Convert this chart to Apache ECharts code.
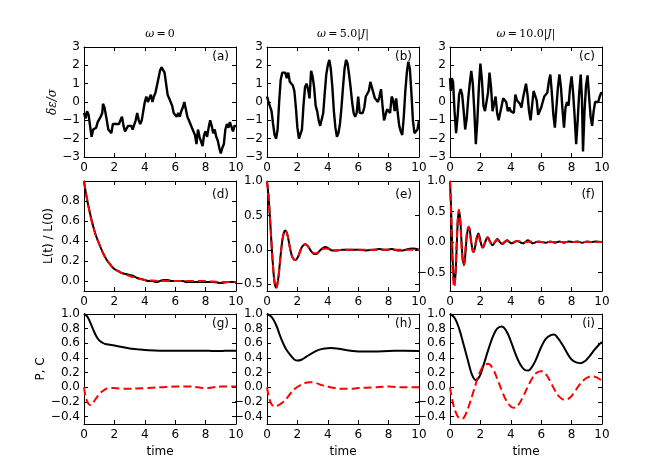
<!DOCTYPE html>
<html><head><meta charset="utf-8">
<script src="https://cdn.jsdelivr.net/npm/echarts@6/dist/echarts.min.js"></script>
<style>html,body{margin:0;padding:0;background:#fff}#c{width:668px;height:474px}</style>
</head><body><div id="c"></div>
<script>
// ---------- tick labels / texts ----------
const xTicks = [0, 2, 4, 6, 8, 10];
const yTicksTop = [-3, -2, -1, 0, 1, 2, 3];
const yTicksD = [0, 0.2, 0.4, 0.6, 0.8];
const yTicksEF = [-0.5, 0, 0.5, 1.0];
const yTicksBottom = [-0.4, -0.2, 0, 0.2, 0.4, 0.6, 0.8, 1.0];
const panelLabels = ['(a)', '(b)', '(c)', '(d)', '(e)', '(f)', '(g)', '(h)', '(i)'];
const colTitles = ['{i|ω}\u2009=\u20090', '{i|ω}\u2009=\u20095.0|{i|J}|', '{i|ω}\u2009=\u200910.0|{i|J}|'];
const rowNames = ['δε/σ', 'L(t) / L(0)', 'P, C'];
const xName = 'time';

// ---------- data: row 1 (noise) ----------
const noiseA = [[0,-0.6],[0.1,-0.9],[0.2,-0.5],[0.3,-0.7],[0.4,-1.3],[0.5,-1.9],[0.6,-1.5],[0.7,-1.5],[0.8,-1.4],[0.9,-1.1],
[1.0,-1.2],[1.1,-0.8],[1.2,-0.6],[1.25,-0.1],[1.35,-0.3],[1.5,-1.0],[1.6,-1.5],[1.7,-1.5],[1.8,-1.7],[1.9,-1.2],
[2.0,-1.3],[2.1,-1.2],[2.2,-1.1],[2.3,-1.2],[2.4,-1.0],[2.5,-0.8],[2.6,-1.3],[2.7,-1.6],[2.8,-1.5],[2.9,-1.3],
[3.0,-1.4],[3.1,-1.3],[3.2,-1.5],[3.3,-1.4],[3.4,-1.0],[3.5,-0.6],[3.6,-1.0],[3.7,-1.2],[3.8,-1.0],[3.9,-0.5],
[4.0,0.0],[4.1,0.3],[4.2,0.0],[4.3,0.2],[4.4,0.4],[4.5,0.0],[4.6,0.3],[4.7,0.5],[4.8,0.9],[4.9,1.3],
[5.0,1.7],[5.1,1.9],[5.2,2.0],[5.3,1.6],[5.4,1.0],[5.5,0.4],[5.6,0.2],[5.7,0.3],[5.8,-0.2],[5.9,-0.6],
[6.0,-0.7],[6.1,-0.8],[6.2,-0.6],[6.3,-0.8],[6.4,-0.5],[6.5,-0.3],[6.6,0.0],[6.7,-0.4],[6.8,-0.8],[6.9,-1.0],
[7.0,-1.1],[7.1,-1.4],[7.2,-1.3],[7.3,-1.8],[7.4,-2.3],[7.5,-1.5],[7.6,-1.9],[7.7,-2.0],[7.8,-2.4],[7.9,-1.8],
[8.0,-1.6],[8.1,-1.9],[8.2,-1.4],[8.3,-1.0],[8.4,-1.3],[8.5,-1.7],[8.6,-1.5],[8.7,-1.9],[8.8,-2.1],[8.9,-2.5],
[9.0,-2.8],[9.1,-2.5],[9.2,-2.3],[9.3,-1.5],[9.4,-1.2],[9.5,-1.4],[9.6,-1.1],[9.7,-1.2],[9.8,-1.6],[9.9,-1.3],[10,-1.3]];

const noiseB = [[0,0.3],[0.1,0.0],[0.2,0.0],[0.3,-0.5],[0.4,-1.2],[0.5,-1.8],[0.6,-2.0],[0.7,-1.5],[0.8,0.0],[0.9,1.2],
[1.0,1.6],[1.1,1.6],[1.2,1.6],[1.3,1.3],[1.4,1.6],[1.5,1.1],[1.6,1.0],[1.7,0.9],[1.8,0.6],[1.9,-0.3],
[2.0,-1.4],[2.1,-2.0],[2.2,-2.0],[2.3,-1.5],[2.4,-0.2],[2.5,0.8],[2.6,1.0],[2.7,0.7],[2.8,0.2],[2.9,1.7],
[3.0,1.4],[3.1,0.8],[3.2,-0.2],[3.3,-0.5],[3.4,-1.0],[3.5,-1.3],[3.6,-1.2],[3.7,-0.6],[3.8,0.5],[3.9,1.5],
[4.0,2.0],[4.1,2.3],[4.2,1.8],[4.3,0.8],[4.4,-0.5],[4.5,-1.4],[4.6,-1.9],[4.7,-1.7],[4.8,-1.2],[4.9,-0.3],
[5.0,0.8],[5.1,1.8],[5.2,2.3],[5.3,2.1],[5.4,1.5],[5.5,0.8],[5.6,0.0],[5.7,-0.6],[5.8,-0.8],[5.9,-0.6],
[6.0,0.3],[6.1,-0.6],[6.2,-0.7],[6.3,-0.6],[6.4,-0.3],[6.5,0.3],[6.6,0.4],[6.7,0.6],[6.8,1.1],[6.9,0.8],
[7.0,0.5],[7.1,0.2],[7.2,0.1],[7.3,0.0],[7.4,0.3],[7.5,0.7],[7.6,-0.2],[7.7,-1.0],[7.8,-0.7],[7.9,-0.4],
[8.0,-0.4],[8.1,-0.6],[8.2,0.3],[8.3,0.1],[8.4,-0.5],[8.5,0.2],[8.6,-0.6],[8.7,-1.3],[8.8,-1.6],[8.9,-1.8],
[9.0,-0.8],[9.1,0.6],[9.2,1.6],[9.3,2.2],[9.4,1.8],[9.5,0.5],[9.6,-1.0],[9.7,-1.7],[9.8,-1.8],[9.9,-1.5],[10,-1.0]];

const noiseC = [[0,1.3],[0.05,0.6],[0.12,1.3],[0.2,1.1],[0.3,-0.5],[0.4,-1.7],[0.5,-0.8],[0.6,0.4],[0.7,0.7],[0.8,0.4],
[0.9,-0.5],[1.0,-1.5],[1.1,-0.9],[1.2,0.2],[1.3,1.0],[1.4,1.7],[1.5,1.0],[1.6,-0.5],[1.7,-2.3],[1.8,-1.0],
[1.9,0.8],[2.0,2.1],[2.1,1.2],[2.2,-0.2],[2.3,-0.5],[2.4,-0.5],[2.5,0.5],[2.6,1.6],[2.7,0.8],[2.8,-0.5],
[2.9,-0.1],[3.0,0.3],[3.1,-0.6],[3.2,-1.0],[3.3,-1.0],[3.4,-0.2],[3.5,0.2],[3.6,0.2],[3.7,0.0],[3.8,-0.5],
[3.9,-0.3],[4.0,-0.5],[4.1,-0.4],[4.2,-0.6],[4.3,0.4],[4.4,0.1],[4.5,0.0],[4.6,-0.1],[4.7,-0.3],[4.8,0.2],
[4.9,0.6],[5.0,1.0],[5.1,0.4],[5.2,-0.5],[5.3,-1.0],[5.4,-0.2],[5.5,0.6],[5.6,0.6],[5.7,0.1],[5.8,-0.7],
[5.9,-0.8],[6.0,-0.3],[6.1,-0.2],[6.2,0.3],[6.3,0.2],[6.4,0.5],[6.5,1.1],[6.6,1.5],[6.7,0.5],[6.8,-0.7],
[6.9,-1.4],[7.0,-0.3],[7.1,0.8],[7.2,1.5],[7.3,0.8],[7.4,-0.4],[7.5,-1.4],[7.6,-0.3],[7.7,0.0],[7.8,-0.2],
[7.9,0.8],[8.0,1.4],[8.1,0.5],[8.2,-0.8],[8.3,-2.3],[8.4,-1.0],[8.5,0.5],[8.6,1.5],[8.68,0.2],[8.75,-2.7],
[8.85,-0.5],[8.95,0.9],[9.05,1.45],[9.15,0.3],[9.25,-0.8],[9.35,-1.3],[9.45,-0.5],[9.55,0.0],[9.65,-0.1],[9.75,0.0],
[9.85,0.3],[9.95,0.5],[10,0.5]];

// ---------- data: row 2 (L(t)/L(0)) ----------
const lBlackD = [[0,1.0],[0.1,0.9],[0.25,0.78],[0.5,0.61],[0.75,0.47],[1,0.37],[1.25,0.28],[1.5,0.21],[1.75,0.16],[2,0.12],
[2.25,0.1],[2.5,0.08],[2.75,0.07],[3,0.06],[3.25,0.05],[3.5,0.03],[3.75,0.02],[4,0.01],[4.25,0.0],[4.5,0.0],
[4.75,-0.01],[5,0.0],[5.25,0.01],[5.5,0.01],[5.75,0.0],[6,0.0],[6.5,0.0],[6.75,-0.01],[7,-0.01],[7.5,-0.01],
[8,-0.01],[8.5,-0.01],[9,-0.02],[9.5,-0.01],[10,-0.01]];
const lRedD = [[0,1.0],[0.25,0.78],[0.5,0.6],[0.75,0.47],[1,0.37],[1.25,0.28],[1.5,0.21],[1.75,0.16],[2,0.12],[2.5,0.08],
[3,0.05],[3.5,0.03],[4,0.01],[4.5,0.005],[5,0.0],[6,0.0],[7,0.0],[8,0.0],[9,-0.01],[10,-0.01]];
const lBlackE = [[0,1.0],[0.1,0.78],[0.2,0.45],[0.3,0.08],[0.4,-0.25],[0.5,-0.48],[0.6,-0.55],[0.7,-0.48],[0.8,-0.3],[0.9,-0.07],
[1.0,0.12],[1.1,0.24],[1.2,0.28],[1.3,0.25],[1.4,0.16],[1.5,0.04],[1.6,-0.06],[1.7,-0.12],[1.85,-0.15],[2.0,-0.12],
[2.15,-0.04],[2.3,0.04],[2.5,0.08],[2.7,0.05],[2.9,-0.02],[3.1,-0.06],[3.25,-0.06],[3.45,-0.02],[3.65,0.02],[3.85,0.04],
[4.05,0.02],[4.3,-0.01],[4.6,-0.01],[5,0.0],[5.5,0.0],[6,0.0],[6.5,-0.01],[7,0.0],[7.4,0.01],[7.8,0.0],
[8.2,0.01],[8.6,-0.01],[8.9,-0.01],[9.3,0.01],[9.6,0.02],[10,0.0]];
const lRedE = [[0,1.0],[0.1,0.78],[0.2,0.45],[0.3,0.08],[0.4,-0.25],[0.5,-0.48],[0.6,-0.56],[0.7,-0.48],[0.8,-0.3],[0.9,-0.07],
[1.0,0.12],[1.1,0.24],[1.2,0.28],[1.3,0.25],[1.4,0.16],[1.5,0.04],[1.6,-0.06],[1.7,-0.12],[1.85,-0.15],[2.0,-0.12],
[2.15,-0.04],[2.3,0.04],[2.5,0.08],[2.7,0.05],[2.9,-0.01],[3.1,-0.05],[3.25,-0.05],[3.45,-0.02],[3.65,0.01],[3.85,0.02],
[4.05,0.01],[4.3,-0.01],[4.6,-0.01],[5,0.0],[6,0.0],[7,0.0],[8,0.0],[9,0.0],[10,0.0]];
const lBlackF = [[0,1.0],[0.08,0.5],[0.16,-0.2],[0.23,-0.55],[0.3,-0.68],[0.38,-0.45],[0.46,0.05],[0.53,0.4],[0.6,0.5],[0.68,0.35],
[0.76,0.0],[0.84,-0.28],[0.93,-0.37],[1.01,-0.2],[1.09,0.05],[1.17,0.2],[1.26,0.24],[1.35,0.1],[1.45,-0.08],[1.55,-0.16],
[1.65,-0.08],[1.76,0.06],[1.87,0.14],[1.97,0.06],[2.07,-0.05],[2.17,-0.09],[2.3,-0.01],[2.48,0.08],[2.64,0.01],[2.8,-0.05],
[2.96,0.0],[3.12,0.05],[3.28,0.0],[3.44,-0.03],[3.6,0.0],[3.76,0.03],[3.92,0.0],[4.08,-0.02],[4.25,0.0],[4.42,0.02],
[4.6,0.0],[4.77,-0.02],[4.95,0.0],[5.12,0.03],[5.3,0.0],[5.48,-0.02],[5.65,0.0],[5.82,0.01],[6,0.0],[6.3,-0.01],
[6.6,0.01],[6.9,-0.01],[7.2,0.01],[7.5,-0.01],[7.8,0.01],[8.1,0.0],[8.4,0.01],[8.7,-0.01],[9.0,0.01],[9.3,0.0],[9.6,0.01],[10,0.0]];
const lRedF = [[0,1.0],[0.07,0.45],[0.14,-0.25],[0.21,-0.62],[0.28,-0.74],[0.36,-0.5],[0.44,0.0],[0.51,0.38],[0.58,0.53],[0.66,0.38],
[0.74,0.02],[0.82,-0.28],[0.9,-0.38],[0.98,-0.22],[1.06,0.04],[1.14,0.2],[1.23,0.25],[1.32,0.12],[1.42,-0.06],[1.52,-0.16],
[1.62,-0.1],[1.73,0.05],[1.84,0.13],[1.94,0.06],[2.04,-0.05],[2.14,-0.09],[2.27,-0.02],[2.45,0.07],[2.61,0.01],[2.77,-0.05],
[2.93,0.0],[3.09,0.04],[3.25,0.0],[3.41,-0.03],[3.57,0.0],[3.73,0.02],[3.9,0.0],[4.06,-0.01],[4.3,0.01],[4.5,0.02],
[4.7,0.0],[5.0,0.0],[5.3,0.01],[5.6,0.0],[6.0,0.0],[6.5,0.0],[7,0.0],[7.5,0.0],[8,0.0],[8.5,0.0],[9,0.0],[10,0.0]];

// ---------- data: row 3 (P black, C red) ----------
const pG = [[0,1.0],[0.2,0.97],[0.4,0.89],[0.6,0.79],[0.8,0.7],[1.0,0.64],[1.2,0.61],[1.4,0.59],[1.7,0.58],[2.0,0.57],
[2.5,0.55],[3.0,0.53],[3.5,0.52],[4,0.51],[5,0.5],[6,0.5],[7,0.5],[8,0.5],[8.5,0.495],[9,0.495],[9.5,0.5],[10,0.5]];
const cG = [[0,0.0],[0.1,-0.12],[0.25,-0.21],[0.4,-0.24],[0.55,-0.23],[0.7,-0.18],[0.9,-0.12],[1.1,-0.07],[1.3,-0.04],[1.6,-0.01],
[2.0,-0.01],[2.5,-0.02],[3,-0.02],[3.5,-0.015],[4,-0.01],[4.5,-0.005],[5,0.0],[6,0.01],[7,0.01],[7.5,0.0],
[8,-0.01],[8.5,0.0],[9,0.01],[9.5,0.01],[10,0.01]];
const pH = [[0,1.0],[0.3,0.96],[0.6,0.85],[0.9,0.68],[1.2,0.54],[1.5,0.45],[1.8,0.38],[2.0,0.365],[2.3,0.38],[2.6,0.42],
[3.0,0.47],[3.4,0.51],[3.8,0.53],[4.2,0.535],[4.6,0.53],[5.0,0.515],[5.5,0.5],[6,0.49],[7,0.49],[8,0.495],[9,0.5],[10,0.495]];
const cH = [[0,0.0],[0.15,-0.15],[0.3,-0.23],[0.5,-0.26],[0.7,-0.25],[1.0,-0.21],[1.3,-0.15],[1.6,-0.07],[1.9,-0.01],[2.2,0.03],
[2.5,0.06],[2.8,0.07],[3.2,0.06],[3.6,0.03],[4.0,0.01],[4.5,-0.01],[5.0,-0.02],[5.5,-0.02],[6,-0.01],[7,0.0],[8,0.01],[9,0.0],[10,0.0]];
const pI = [[0,1.0],[0.3,0.95],[0.6,0.8],[0.9,0.58],[1.2,0.35],[1.45,0.17],[1.7,0.1],[1.95,0.15],[2.2,0.3],[2.5,0.5],
[2.8,0.68],[3.1,0.8],[3.4,0.83],[3.7,0.77],[4.0,0.63],[4.3,0.46],[4.6,0.32],[4.9,0.24],[5.15,0.23],[5.4,0.28],
[5.7,0.4],[6.0,0.55],[6.3,0.66],[6.6,0.71],[6.85,0.72],[7.1,0.67],[7.4,0.58],[7.7,0.47],[8.0,0.38],[8.3,0.34],
[8.6,0.33],[8.9,0.36],[9.2,0.43],[9.5,0.51],[9.8,0.58],[10,0.62]];
const cI = [[0,0.0],[0.2,-0.22],[0.4,-0.35],[0.6,-0.42],[0.8,-0.43],[1.0,-0.38],[1.2,-0.28],[1.45,-0.12],[1.7,0.05],[1.95,0.2],
[2.2,0.29],[2.5,0.32],[2.8,0.26],[3.1,0.12],[3.4,-0.04],[3.7,-0.18],[4.0,-0.26],[4.25,-0.28],[4.5,-0.24],[4.8,-0.13],
[5.1,0.0],[5.4,0.12],[5.7,0.2],[6.0,0.22],[6.3,0.18],[6.6,0.08],[6.9,-0.04],[7.2,-0.13],[7.55,-0.17],[7.9,-0.14],
[8.2,-0.06],[8.5,0.03],[8.8,0.1],[9.1,0.14],[9.4,0.15],[9.7,0.13],[10,0.09]];

// ---------- layout ----------
const lefts = [84, 267, 450];
const tops = [47, 181, 314];
const W = 152, H = 110;
const FONT = 'DejaVu Sans';

const panels = [
  {black: noiseA, red: null, yMin: -3, yMax: 3, yTicks: yTicksTop, dec: 0, smooth: false},
  {black: noiseB, red: null, yMin: -3, yMax: 3, yTicks: yTicksTop, dec: 0, smooth: false},
  {black: noiseC, red: null, yMin: -3, yMax: 3, yTicks: yTicksTop, dec: 0, smooth: false},
  {black: lBlackD, red: lRedD, yMin: -0.1, yMax: 1.0, yTicks: yTicksD, dec: 1, smooth: 0.4},
  {black: lBlackE, red: lRedE, yMin: -0.6, yMax: 1.0, yTicks: yTicksEF, dec: 1, smooth: 0.4},
  {black: lBlackF, red: lRedF, yMin: -0.8, yMax: 1.0, yTicks: yTicksEF, dec: 1, smooth: 0.4},
  {black: pG, red: cG, yMin: -0.5, yMax: 1.0, yTicks: yTicksBottom, dec: 1, smooth: 0.4},
  {black: pH, red: cH, yMin: -0.5, yMax: 1.0, yTicks: yTicksBottom, dec: 1, smooth: 0.4},
  {black: pI, red: cI, yMin: -0.5, yMax: 1.0, yTicks: yTicksBottom, dec: 1, smooth: 0.4}
];

const fmt = (dec) => (v) => (dec === 0 ? String(Math.round(v)) : Number(v).toFixed(dec)).replace('-', '\u2212');
const tickStyle = {show: true, inside: true, length: 4, lineStyle: {color: '#000', width: 1}};
const lineStyleAx = {show: true, onZero: false, lineStyle: {color: '#000', width: 1}};
const labelStyle = {color: '#000', fontSize: 12, fontFamily: FONT, showMinLabel: true, showMaxLabel: true, hideOverlap: false};

const grid = [], xAxis = [], yAxis = [], series = [], graphic = [];
panels.forEach((p, k) => {
  const row = Math.floor(k / 3), col = k % 3;
  grid.push({left: lefts[col], top: tops[row], width: W, height: H, show: false, containLabel: false});
  const xBase = {type: 'value', gridIndex: k, min: 0, max: 10, interval: 2, splitLine: {show: false},
    axisLine: lineStyleAx, axisTick: Object.assign({}, tickStyle, {customValues: xTicks})};
  xAxis.push(Object.assign({}, xBase, {position: 'bottom',
    axisLabel: Object.assign({}, labelStyle, {margin: 5, customValues: xTicks, formatter: fmt(0)}),
    name: row === 2 ? xName : '', nameLocation: 'middle', nameGap: 22,
    nameTextStyle: {color: '#000', fontSize: 12, fontFamily: FONT}}));
  xAxis.push(Object.assign({}, xBase, {position: 'top', axisLabel: {show: false}}));
  const yBase = {type: 'value', gridIndex: k, min: p.yMin, max: p.yMax, splitLine: {show: false},
    axisLine: lineStyleAx, axisTick: Object.assign({}, tickStyle, {customValues: p.yTicks})};
  const isItalicName = row === 0;
  yAxis.push(Object.assign({}, yBase, {position: 'left',
    axisLabel: Object.assign({}, labelStyle, {margin: 4, customValues: p.yTicks, formatter: fmt(p.dec)}),
    name: col === 0 ? rowNames[row] : '', nameLocation: 'middle', nameRotate: 90,
    nameGap: isItalicName ? 24 : 29,
    nameTextStyle: isItalicName
      ? {color: '#000', fontSize: 12, fontFamily: 'DejaVu Serif', fontStyle: 'italic'}
      : {color: '#000', fontSize: 12, fontFamily: FONT}}));
  yAxis.push(Object.assign({}, yBase, {position: 'right', axisLabel: {show: false}}));
  series.push({type: 'line', xAxisIndex: 2 * k, yAxisIndex: 2 * k, data: p.black, showSymbol: false, symbol: 'none',
    smooth: p.smooth, lineStyle: {color: '#000', width: row === 0 ? 2.4 : 2}, z: 3, silent: true});
  if (p.red) {
    series.push({type: 'line', xAxisIndex: 2 * k, yAxisIndex: 2 * k, data: p.red, showSymbol: false, symbol: 'none',
      smooth: p.smooth, lineStyle: {color: '#ff0000', width: 2, type: [8, 4]}, z: 4, silent: true});
  }
  const labY = row === 1 ? tops[row] + 14 : tops[row] + 10;
  graphic.push({type: 'text', x: lefts[col] + W - 7, y: labY, z: 10,
    style: {text: panelLabels[k], fill: '#000', font: '12px ' + FONT, textAlign: 'right', textVerticalAlign: 'middle', align: 'right', verticalAlign: 'middle'}});
});
colTitles.forEach((t, c) => {
  graphic.push({type: 'text', x: lefts[c] + W / 2, y: 34, z: 10,
    style: {text: t, fill: '#000', font: '11px DejaVu Serif', textAlign: 'center', textVerticalAlign: 'middle', align: 'center', verticalAlign: 'middle',
      rich: {i: {fontStyle: 'italic', fontFamily: 'DejaVu Serif', fontSize: 11, fill: '#000'}}}});
});

const chart = echarts.init(document.getElementById('c'), null, {renderer: 'canvas'});
chart.setOption({animation: false, backgroundColor: '#fff', grid, xAxis, yAxis, series, graphic});
</script></body></html>
